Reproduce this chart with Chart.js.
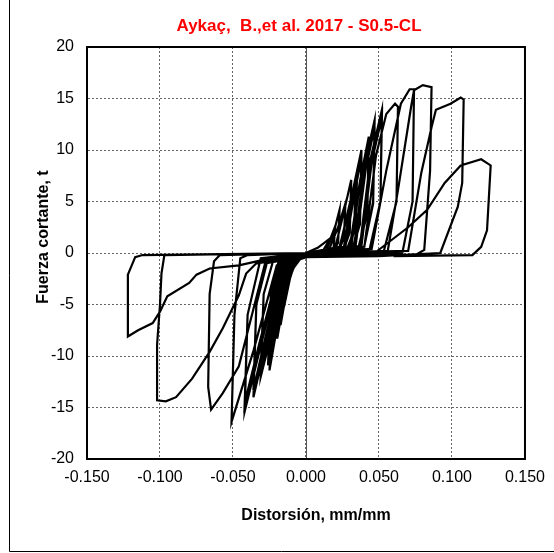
<!DOCTYPE html>
<html><head><meta charset="utf-8">
<script src="https://cdn.jsdelivr.net/npm/chart.js@4/dist/chart.umd.min.js"></script>
<style>html,body{margin:0;padding:0;background:#fff}</style>
</head><body>
<canvas id="c" width="554" height="553"></canvas>
<script>
const chartTitle = 'Aykaç,  B.,et al. 2017 - S0.5-CL';
const xAxisTitle = 'Distorsión, mm/mm';
const yAxisTitle = 'Fuerza cortante, t';
const xTicks = [-0.15, -0.10, -0.05, 0, 0.05, 0.10, 0.15];
const yTicks = [-20, -15, -10, -5, 0, 5, 10, 15, 20];

// Hysteresis path: distortion (mm/mm)
const distortion = [
  0.000, 0.008, 0.0155, 0.014, 0.005, -0.004, -0.0095, -0.008, 0.000,
  0.012, 0.017, 0.020, 0.019, 0.016, 0.000, -0.006, -0.010, -0.013, -0.012, -0.010, 0.000,
  0.014, 0.019, 0.023, 0.022, 0.018, 0.000, -0.007, -0.011, -0.015, -0.014, -0.011, 0.000,
  0.016, 0.022, 0.027, 0.026, 0.022, 0.000, -0.008, -0.013, -0.0174, -0.016, -0.013, 0.000,
  0.020, 0.026, 0.031, 0.030, 0.025, 0.000, -0.009, -0.015, -0.0197, -0.018, -0.014, 0.000,
  0.023, 0.030, 0.035, 0.034, 0.028, 0.000, -0.010, -0.017, -0.023, -0.021, -0.016, 0.000,
  0.023, 0.029, 0.034, 0.033, 0.027, 0.000, -0.010, -0.017, -0.022, -0.020, -0.015, 0.000,
  0.026, 0.032, 0.038, 0.037, 0.031, 0.000, -0.011, -0.019, -0.025, -0.023, -0.017, 0.000,
  0.027, 0.033, 0.038, 0.037, 0.031, 0.000, -0.012, -0.020, -0.026, -0.024, -0.018, 0.000,
  0.030, 0.037, 0.043, 0.042, 0.035, 0.000, -0.013, -0.023, -0.031, -0.029, -0.022, 0.000,
  0.031, 0.037, 0.043, 0.042, 0.035, 0.000, -0.014, -0.024, -0.031, -0.029, -0.022, 0.000,
  0.033, 0.040, 0.047, 0.046, 0.039, 0.000, -0.015, -0.027, -0.036, -0.034, -0.026, 0.000,
  0.034, 0.041, 0.047, 0.046, 0.039, 0.000, -0.016, -0.028, -0.036, -0.034, -0.026, 0.000,
  0.037, 0.044, 0.052, 0.051, 0.043, 0.000, -0.017, -0.031, -0.042, -0.040, -0.031, 0.000,
  0.038, 0.045, 0.052, 0.051, 0.043, 0.000, -0.018, -0.032, -0.042, -0.040, -0.031, 0.000,
  0.040, 0.048, 0.055, 0.061, 0.063, 0.062, 0.053, 0.000, -0.020, -0.036, -0.051, -0.049, -0.045, -0.040, 0.000,
  0.045, 0.055, 0.065, 0.071, 0.074, 0.073, 0.066, 0.000, -0.028, -0.046, -0.057, -0.065, -0.067, -0.066, -0.063, -0.059, 0.000,
  0.056, 0.063, 0.072, 0.074, 0.080, 0.086, 0.085, 0.081, 0.075, 0.000, -0.034, -0.041, -0.046, -0.057, -0.066, -0.078, -0.089, -0.096, -0.102, -0.102, -0.100, -0.099, -0.097, 0.000,
  0.070, 0.079, 0.086, 0.089, 0.099, 0.106, 0.108, 0.107, 0.104, 0.092, 0.050, 0.000, -0.030, -0.046, -0.066, -0.075, -0.080, -0.095, -0.100, -0.105, -0.115, -0.122, -0.122, -0.117, -0.112, 0.000,
  0.047, 0.070, 0.083, 0.095, 0.106, 0.120, 0.1265, 0.124, 0.120, 0.114, 0.060
];
// Hysteresis path: shear force (t)
const force = [
  0.0, 0.5, 1.3, 0.1, -0.2, -0.6, -1.65, -0.4, -0.1,
  0.3, 1.5, 2.6, 0.6, -0.1, -0.2, -0.6, -2.0, -3.4, -1.0, -0.3, -0.1,
  0.3, 2.0, 4.2, 1.0, 0.0, -0.2, -0.7, -2.5, -5.2, -1.5, -0.3, 0.0,
  0.4, 2.5, 4.8, 1.5, 0.0, -0.2, -0.8, -3.5, -7.0, -2.0, -0.4, 0.0,
  0.5, 4.0, 7.1, 2.0, 0.0, -0.2, -1.0, -4.5, -8.3, -2.5, -0.4, 0.0,
  0.6, 4.5, 7.7, 2.5, 0.0, -0.2, -1.0, -5.0, -9.4, -3.0, -0.4, 0.0,
  0.5, 4.2, 7.2, 2.2, 0.0, -0.2, -0.9, -4.8, -8.8, -2.8, -0.4, 0.0,
  0.6, 6.0, 10.0, 3.0, 0.0, -0.2, -1.2, -6.5, -11.4, -4.0, -0.4, 0.0,
  0.6, 5.6, 9.3, 2.8, 0.0, -0.2, -1.1, -6.2, -10.9, -3.8, -0.4, 0.0,
  0.6, 7.0, 11.3, 4.0, 0.0, -0.2, -1.3, -7.5, -12.0, -4.0, -0.5, 0.0,
  0.6, 6.8, 10.6, 3.8, 0.0, -0.2, -1.2, -7.2, -11.3, -4.0, -0.5, 0.0,
  0.7, 8.5, 12.9, 5.0, 0.0, -0.2, -1.3, -8.5, -14.0, -5.0, -0.5, 0.0,
  0.7, 8.2, 12.2, 4.8, 0.0, -0.2, -1.3, -8.3, -13.3, -5.0, -0.5, 0.0,
  0.7, 9.0, 13.9, 5.0, 0.0, -0.2, -1.3, -9.0, -15.4, -6.0, -0.5, 0.0,
  0.7, 8.8, 13.2, 5.0, 0.0, -0.2, -1.3, -8.8, -14.6, -6.0, -0.5, 0.0,
  0.6, 9.5, 13.5, 14.5, 14.2, 5.0, 0.0, -0.3, -1.2, -9.5, -16.4, -6.0, -0.5, -0.2, 0.0,
  0.4, 8.0, 14.5, 15.9, 15.9, 5.0, 0.0, -0.3, -1.0, -11.0, -13.6, -15.2, -13.0, -4.0, -0.8, -0.2, 0.0,
  0.2, 6.1, 14.2, 15.8, 16.3, 16.1, 8.0, 0.3, -0.2, -0.3, -1.0, -2.0, -4.1, -7.3, -9.6, -12.2, -14.0, -14.4, -14.3, -8.9, -5.0, -2.0, -0.2, 0.0,
  0.2, 7.8, 12.2, 13.9, 14.5, 15.1, 14.9, 6.8, 4.5, 0.0, -0.3, -0.4, -0.7, -1.2, -1.5, -2.1, -2.9, -4.2, -5.7, -6.8, -7.5, -8.1, -2.1, -0.4, -0.2, 0.0,
  0.0, 2.5, 4.2, 6.8, 8.5, 9.1, 8.5, 2.2, 0.6, -0.2, -0.3
];

const points = distortion.map((x, i) => ({ x: x, y: force[i] }));
const FONT = "'Liberation Sans', Arial, sans-serif";

const decor = {
  id: 'decor',
  beforeDatasetsDraw(chart) {
    const { ctx, chartArea: a, scales } = chart;
    ctx.save();
    const x0 = Math.round(scales.x.getPixelForValue(0)) + 0.5;
    ctx.strokeStyle = '#555';
    ctx.lineWidth = 1;
    ctx.beginPath(); ctx.moveTo(x0, a.top); ctx.lineTo(x0, a.bottom); ctx.stroke();
    ctx.restore();
  },
  afterDraw(chart) {
    const { ctx, chartArea: a } = chart;
    ctx.save();
    ctx.strokeStyle = '#000';
    ctx.lineWidth = 2;
    ctx.strokeRect(a.left, a.top, a.right - a.left, a.bottom - a.top);
    ctx.lineWidth = 1;
    ctx.beginPath();
    ctx.moveTo(9.5, 0); ctx.lineTo(9.5, 551.5); ctx.lineTo(554, 551.5);
    ctx.stroke();
    ctx.fillStyle = '#ff0000';
    ctx.font = 'bold 17px ' + FONT;
    ctx.textAlign = 'center';
    ctx.textBaseline = 'alphabetic';
    ctx.fillText(chartTitle, 299, 31);
    ctx.fillStyle = '#000';
    ctx.font = 'bold 16px ' + FONT;
    ctx.fillText(xAxisTitle, 316, 520);
    ctx.translate(48, 237);
    ctx.rotate(-Math.PI / 2);
    ctx.fillText(yAxisTitle, 0, 0);
    ctx.restore();
  }
};

new Chart(document.getElementById('c'), {
  type: 'scatter',
  data: {
    datasets: [{
      data: points,
      showLine: true,
      borderColor: '#000',
      borderWidth: 2.2,
      pointRadius: 0,
      tension: 0,
      fill: false
    }]
  },
  options: {
    responsive: false,
    animation: false,
    devicePixelRatio: 1,
    layout: { padding: { left: 0, right: 26, top: 47, bottom: 0 } },
    plugins: { legend: { display: false }, title: { display: false }, tooltip: { enabled: false } },
    scales: {
      x: {
        type: 'linear', min: -0.15, max: 0.15,
        afterBuildTicks: s => { s.ticks = xTicks.map(v => ({ value: v })); },
        afterFit: s => { s.height = 94; },
        ticks: {
          color: '#000', padding: 9,
          font: { family: FONT, size: 16 },
          callback: v => (Math.abs(v) < 1e-9 ? 0 : v).toFixed(3),
          maxRotation: 0, autoSkip: false
        },
        grid: { color: '#666', lineWidth: 1, drawTicks: false },
        border: { display: true, color: '#000', width: 2, dash: [2, 2] }
      },
      y: {
        type: 'linear', min: -20, max: 20,
        afterBuildTicks: s => { s.ticks = yTicks.map(v => ({ value: v })); },
        afterFit: s => { s.width = 87; },
        ticks: {
          color: '#000', padding: 13,
          font: { family: FONT, size: 16 },
          autoSkip: false
        },
        grid: { color: '#666', lineWidth: 1, drawTicks: false },
        border: { display: true, color: '#000', width: 2, dash: [2, 2] }
      }
    }
  },
  plugins: [decor]
});
</script>
</body></html>
